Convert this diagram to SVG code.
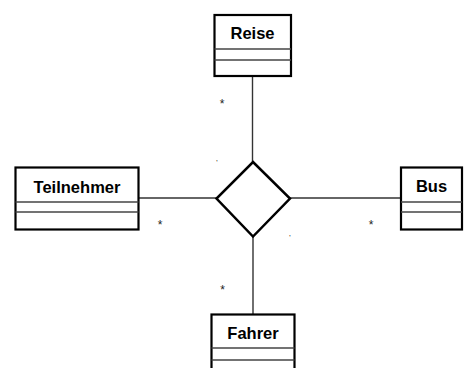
<svg xmlns="http://www.w3.org/2000/svg" width="471" height="368" viewBox="0 0 471 368">
<style>
.box{fill:#fff;stroke:#000;stroke-width:2.2}
.div{stroke:#444;stroke-width:1.4}
.name{font-family:"Liberation Sans",Arial,sans-serif;font-weight:bold;font-size:16.5px;text-anchor:middle;fill:#000}
.conn line{stroke:#333;stroke-width:1.4}
.lbl{font-family:"Liberation Sans",Arial,sans-serif;font-size:12px;text-anchor:middle;fill:#222}
.tick{font-family:"Liberation Sans",Arial,sans-serif;font-size:7px;text-anchor:middle;fill:#000}
</style>
<rect width="471" height="368" fill="#fff"/>
<g id="connectors" class="conn">
<line x1="252.5" y1="76" x2="252.5" y2="162"/>
<line x1="139" y1="198" x2="217" y2="198"/>
<line x1="290" y1="198" x2="401" y2="198"/>
<line x1="253" y1="237" x2="253" y2="314"/>
<text class="lbl" x="222" y="107.5">*</text>
<text class="lbl" x="160" y="228.5">*</text>
<text class="lbl" x="222.5" y="293.5">*</text>
<text class="lbl" x="371" y="228.5">*</text>
<text class="tick" x="217" y="165">'</text>
<text class="tick" x="290" y="240">'</text>
</g>
<g id="assoc">
<polygon points="253,162 290,198.5 253,236.5 216.5,198.5" fill="#fff" stroke="#000" stroke-width="2.5"/>
</g>
<g id="Reise">
<rect class="box" x="214.5" y="15" width="76.5" height="61"/>
<line class="div" x1="214.5" y1="49" x2="291" y2="49"/>
<line class="div" x1="214.5" y1="60" x2="291" y2="60"/>
<text class="name" x="252.5" y="39">Reise</text>
</g>
<g id="Teilnehmer">
<rect class="box" x="15.5" y="167.5" width="123" height="62"/>
<line class="div" x1="15.5" y1="202" x2="138.5" y2="202"/>
<line class="div" x1="15.5" y1="212" x2="138.5" y2="212"/>
<text class="name" x="77" y="192.5">Teilnehmer</text>
</g>
<g id="Bus">
<rect class="box" x="401" y="167.5" width="61" height="62"/>
<line class="div" x1="401" y1="202" x2="462" y2="202"/>
<line class="div" x1="401" y1="212" x2="462" y2="212"/>
<text class="name" x="431.5" y="191.5">Bus</text>
</g>
<g id="Fahrer">
<rect class="box" x="211.5" y="314.5" width="83" height="60"/>
<line class="div" x1="211.5" y1="348" x2="294.5" y2="348"/>
<line class="div" x1="211.5" y1="360" x2="294.5" y2="360"/>
<text class="name" x="253" y="339">Fahrer</text>
</g>
</svg>
